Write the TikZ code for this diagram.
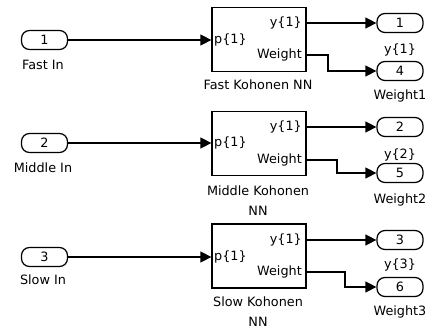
\documentclass[tikz,border=0pt]{standalone}
\usepackage{fontspec}
\setmainfont{DejaVu Sans}
\usetikzlibrary{arrows.meta}

\begin{document}
\begin{tikzpicture}[x=1pt, y=-1pt,
  font=\fontsize{12.8}{14}\selectfont,
  port/.style={draw, line width=1.25pt, rounded corners=8pt,
    minimum width=46pt, minimum height=19pt, inner sep=0pt},
  blk/.style={draw, line width=1.25pt, minimum width=94pt,
    minimum height=64pt, inner sep=0pt},
  wire/.style={line width=1.25pt, -{Triangle[length=11pt,width=11pt]}},
  lbl/.style={inner sep=0pt}]
\useasboundingbox (0,0) rectangle (428,329);

% ---------- Fast network ----------
\node[port] (in1) at (44.5,40) {1};
\node[lbl] (in1l) at (43,65) {Fast In};
\node[blk] (b1) at (259,39.5) {};
\node[lbl, anchor=west] (b1p) at (214,40) {p\{1\}};
\node[lbl, anchor=east] (b1y) at (302,23) {y\{1\}};
\node[lbl, anchor=east] (b1w) at (302,55) {Weight};
\node[lbl] (b1l) at (258,85) {Fast Kohonen NN};
\node[port] (o1) at (400,23) {1};
\node[lbl] (o1l) at (400,50) {y\{1\}};
\node[port] (o4) at (400,71) {4};
\node[lbl] (o4l) at (400,96) {Weight1};
\coordinate (b1out) at (b1.east |- b1y);
\coordinate (b1wout) at (b1.east |- b1w);
\draw[wire] (in1.east) -- (in1.east -| b1.west);
\draw[wire] (b1out) -- (o1.west);
\draw[wire] (b1wout) -- (328,55) |- (o4.west);

% ---------- Middle network ----------
\node[port] (in2) at (44.5,143) {2};
\node[lbl] (in2l) at (43,168) {Middle In};
\node[blk] (b2) at (259,143.5) {};
\node[lbl, anchor=west] (b2p) at (214,143) {p\{1\}};
\node[lbl, anchor=east] (b2y) at (302,127) {y\{1\}};
\node[lbl, anchor=east] (b2w) at (302,160) {Weight};
\node[lbl] (b2l) at (258,191) {Middle Kohonen};
\node[lbl] (b2l2) at (258,211) {NN};
\node[port] (o2) at (400,127) {2};
\node[lbl] (o2l) at (400,155) {y\{2\}};
\node[port] (o5) at (400,173) {5};
\node[lbl] (o5l) at (400,200) {Weight2};
\coordinate (b2out) at (b2.east |- b2y);
\coordinate (b2wout) at (b2.east |- b2w);
\draw[wire] (in2.east) -- (in2.east -| b2.west);
\draw[wire] (b2out) -- (o2.west);
\draw[wire] (b2wout) -- (337,160) |- (o5.west);

% ---------- Slow network ----------
\node[port] (in3) at (44.5,257) {3};
\node[lbl] (in3l) at (43,280) {Slow In};
\node[blk] (b3) at (259,256) {};
\node[lbl, anchor=west] (b3p) at (214,257) {p\{1\}};
\node[lbl, anchor=east] (b3y) at (302,240) {y\{1\}};
\node[lbl, anchor=east] (b3w) at (302,272) {Weight};
\node[lbl] (b3l) at (258,302) {Slow Kohonen};
\node[lbl] (b3l2) at (258,322) {NN};
\node[port] (o3) at (400,240) {3};
\node[lbl] (o3l) at (400,265) {y\{3\}};
\node[port] (o6) at (400,287) {6};
\node[lbl] (o6l) at (400,312) {Weight3};
\coordinate (b3out) at (b3.east |- b3y);
\coordinate (b3wout) at (b3.east |- b3w);
\draw[wire] (in3.east) -- (in3.east -| b3.west);
\draw[wire] (b3out) -- (o3.west);
\draw[wire] (b3wout) -- (345,272) |- (o6.west);
\end{tikzpicture}
\end{document}
